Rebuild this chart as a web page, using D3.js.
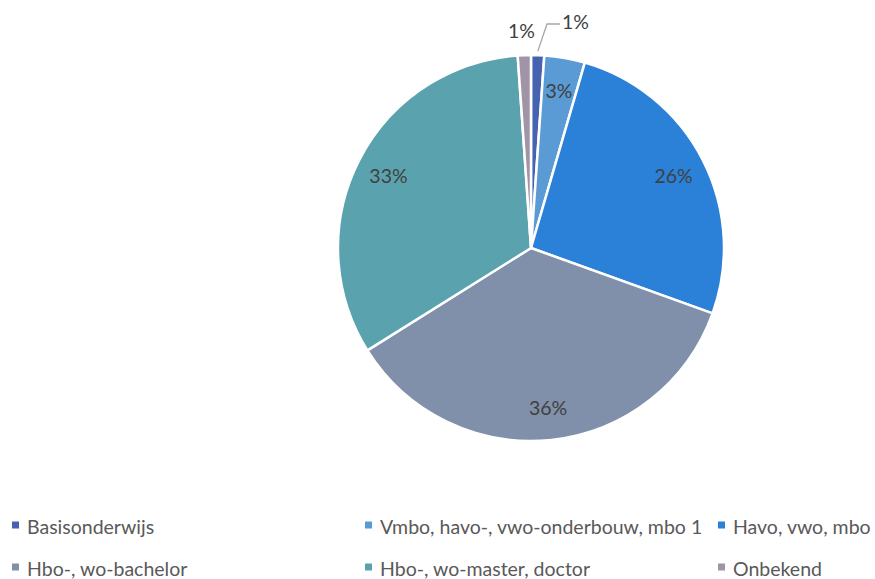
<!DOCTYPE html>
<html><head><meta charset="utf-8">
<script src="https://cdn.jsdelivr.net/npm/d3@7"></script>
<style>body{margin:0;background:#fff}svg{display:block}</style>
</head><body>
<svg id="c" width="875" height="579"></svg>
<script>
const categories = ["Basisonderwijs","Vmbo, havo-, vwo-onderbouw, mbo 1","Havo, vwo, mbo","Hbo-, wo-bachelor","Hbo-, wo-master, doctor","Onbekend"];
const values = [1.1, 3.4, 26.0, 35.6, 32.8, 1.1];
const labels = ["1%","3%","26%","36%","33%","1%"];
const colors = ["#4662B0","#5B9BD5","#2B80D8","#8190AA","#5AA3AE","#A294A7"];

const svg = d3.select("#c");
const cx = 531, cy = 248, R = 193;
const font = "Lato, 'Open Sans', sans-serif";
const labelSize = 19.5, legendSize = 19.5;
const pie = d3.pie().sort(null).value(d => d)(values);
const arc = d3.arc().innerRadius(0).outerRadius(R);
const g = svg.append("g").attr("transform", `translate(${cx},${cy})`);
g.selectAll("path").data(pie).join("path")
  .attr("d", arc).attr("fill", (d,i) => colors[i])
  .attr("stroke", "#fff").attr("stroke-width", 2.5).attr("stroke-linejoin","round");

const inner = d3.arc().innerRadius(160).outerRadius(160);
pie.forEach((d,i) => {
  let x, y;
  if (i === 0) {
    const a = (d.startAngle + d.endAngle)/2;
    const x0 = Math.sin(a)*(R+4), y0 = -Math.cos(a)*(R+4);
    x = 30; y = -227;
    g.append("polyline").attr("points", `${x0},${y0} ${16},${-224} ${29},${-224}`)
      .attr("fill","none").attr("stroke","#A6A6A6").attr("stroke-width",1.3);
    g.append("text").attr("x", x+1).attr("y", y).attr("text-anchor","start")
      .attr("dominant-baseline","central").attr("font-family",font).attr("font-size",labelSize)
      .attr("fill","#404040").text(labels[i]);
    return;
  }
  if (i === 5) {
    const a = (d.startAngle + d.endAngle)/2;
    x = Math.sin(a)*218 - 2; y = -Math.cos(a)*218;
  } else {
    [x, y] = inner.centroid(d);
  }
  g.append("text").attr("x", x).attr("y", y).attr("text-anchor","middle")
    .attr("dominant-baseline","central").attr("font-family",font).attr("font-size",labelSize)
    .attr("fill","#404040").text(labels[i]);
});

const legendPos = [[12,525],[365,525],[718,525],[12,567],[365,567],[718,567]];
categories.forEach((c,i) => {
  const [lx, ly] = legendPos[i];
  svg.append("rect").attr("x", lx).attr("y", ly-3.5).attr("width",7).attr("height",7).attr("fill",colors[i]);
  svg.append("text").attr("x", lx+15).attr("y", ly+1).attr("dominant-baseline","central")
    .attr("font-family",font).attr("font-size",legendSize).attr("fill","#595959").text(c);
});
</script>
</body></html>
